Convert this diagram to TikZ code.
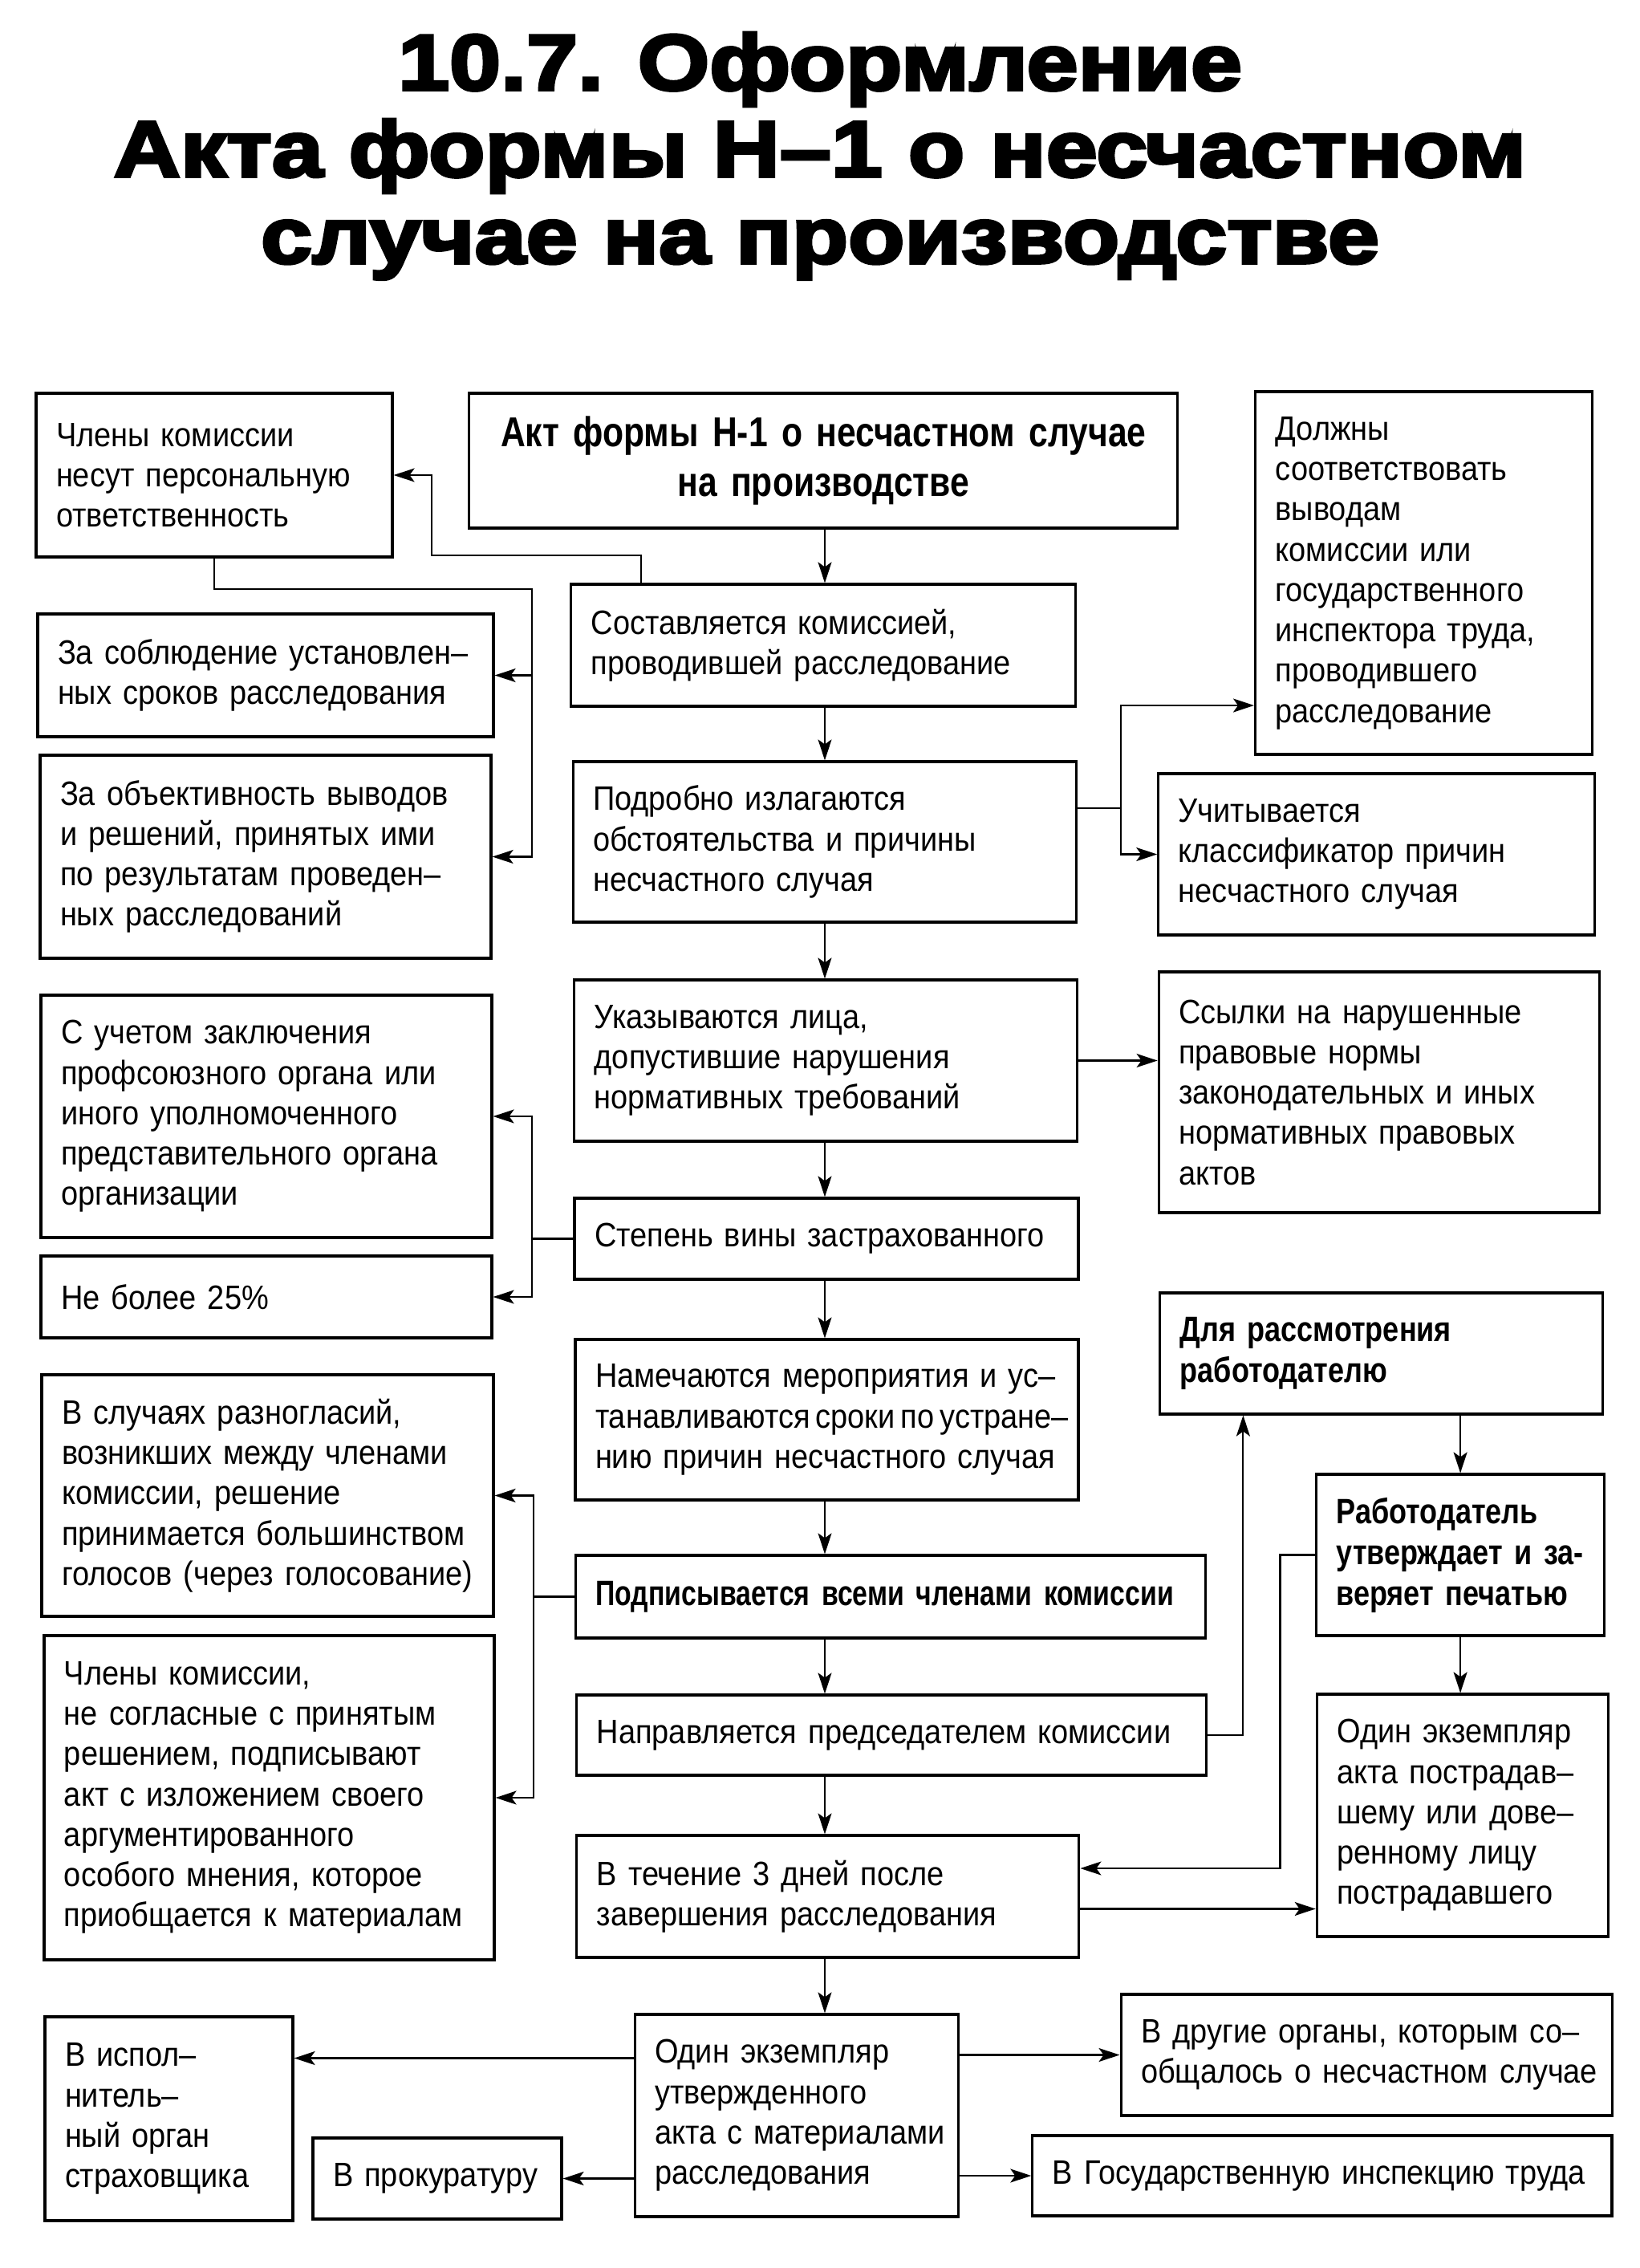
\documentclass[tikz,border=0pt]{standalone}
\usepackage{fontspec}
\setmainfont{Liberation Sans}[FakeStretch=0.9]
\newfontfamily\condbold{Liberation Sans}[FakeStretch=0.82]
\newfontfamily\tightbold{Liberation Sans}[FakeStretch=0.77]
\newfontfamily\titlefont{Liberation Sans}[FakeStretch=1.17, FakeBold=4]
\usetikzlibrary{arrows.meta, positioning, calc}

\begin{document}
\begin{tikzpicture}[
    box/.style={rectangle, draw, line width=0.9pt, align=left, inner xsep=0.25cm, inner ysep=0pt,
        font=\fontsize{12}{14.3}\selectfont,
        execute at begin node={\rightskip=0pt plus 1fil minus 2cm\relax}},
    boldbox/.style={box, font=\condbold\bfseries\fontsize{12.5}{14.5}\selectfont},
    arrow/.style={-{Stealth[length=2.6mm, width=1.7mm, inset=0.6mm]}, line width=0.6pt},
    link/.style={line width=0.6pt}
]
\useasboundingbox (0,0) rectangle (20.43,-28.26);
\fill[white] (0,0) rectangle (20.43,-28.26);

\node[font=\titlefont\bfseries\fontsize{28}{30.7}\selectfont, align=center, anchor=north, inner sep=0pt] (title) at (10.22,-0.40)
    {10.7. Оформление\\ Акта формы Н–1 о несчастном\\ случае на производстве};

% central column
\node[boldbox, text width=8.33cm, minimum height=1.68cm, font=\condbold\bfseries\fontsize{14.8}{17.5}\selectfont,
    execute at begin node={\leftskip=0pt plus 1fil\rightskip=0pt plus 1fil\parfillskip=0pt\relax}] (main) at (10.263,-5.74)
    {Акт формы Н-1 о несчастном случае\\ на производстве};
\node[box, text width=5.79cm, minimum height=1.52cm] (sost) at (10.263,-8.04)
    {Составляется комиссией,\\ проводившей расследование};
\node[box, text width=5.77cm, minimum height=2.00cm] (podrob) at (10.276,-10.49)
    {Подробно излагаются\\ обстоятельства и причины\\ несчастного случая};
\node[box, text width=5.77cm, minimum height=2.01cm] (ukaz) at (10.293,-13.215)
    {Указываются лица,\\ допустившие нарушения\\ нормативных требований};
\node[box, text width=5.78cm, minimum height=1.01cm] (stepen) at (10.30,-15.435)
    {Степень вины застрахованного};
\node[box, text width=5.77cm, minimum height=2.00cm] (namech) at (10.305,-17.69)
    {Намечаются мероприятия и ус–\\ танавливаются\kern2pt сроки\kern2pt по\kern2pt устране–\\ нию причин несчастного случая};
\node[boldbox, text width=7.35cm, minimum height=1.03cm, font=\tightbold\bfseries\fontsize{12.5}{14.5}\selectfont] (podp) at (11.099,-19.895)
    {Подписывается всеми членами комиссии};
\node[box, text width=7.35cm, minimum height=1.00cm] (napr) at (11.113,-21.62)
    {Направляется председателем комиссии};
\node[box, text width=5.76cm, minimum height=1.52cm] (vtech) at (10.318,-23.63)
    {В течение 3 дней после\\ завершения расследования};
\node[box, text width=3.53cm, minimum height=2.52cm] (odinutv) at (9.926,-26.36)
    {Один экземпляр\\ утвержденного\\ акта с материалами\\ расследования};

% left column
\node[box, text width=3.94cm, minimum height=2.04cm] (chlen) at (2.67,-5.92)
    {Члены комиссии\\ несут персональную\\ ответственность};
\node[box, text width=5.18cm, minimum height=1.53cm] (soblud) at (3.31,-8.415)
    {За соблюдение установлен–\\ ных сроков расследования};
\node[box, text width=5.12cm, minimum height=2.53cm] (objekt) at (3.31,-10.675)
    {За объективность выводов\\ и решений, принятых ими\\ по результатам проведен–\\ ных расследований};
\node[box, text width=5.12cm, minimum height=3.02cm] (suchet) at (3.32,-13.91)
    {С учетом заключения\\ профсоюзного органа или\\ иного уполномоченного\\ представительного органа\\ организации};
\node[box, text width=5.12cm, minimum height=1.02cm] (nebolee) at (3.32,-16.16)
    {Не более 25\%};
\node[box, text width=5.13cm, minimum height=3.01cm] (vsluch) at (3.335,-18.635)
    {В случаях разногласий,\\ возникших между членами\\ комиссии, решение\\ принимается большинством\\ голосов (через голосование)};
\node[box, text width=5.11cm, minimum height=4.04cm] (chlen2) at (3.355,-22.40)
    {Члены комиссии,\\ не согласные с принятым\\ решением, подписывают\\ акт с изложением своего\\ аргументированного\\ особого мнения, которое\\ приобщается к материалам};
\node[box, text width=2.59cm, minimum height=2.54cm] (ispol) at (2.105,-26.40)
    {В испол–\\ нитель–\\ ный орган\\ страховщика};
\node[box, text width=2.60cm, minimum height=1.01cm] (prokur) at (5.45,-27.145)
    {В прокуратуру};

% right column
\node[box, text width=3.70cm, minimum height=4.52cm] (dolzh) at (17.746,-7.14)
    {Должны\\ соответствовать\\ выводам\\ комиссии или\\ государственного\\ инспектора труда,\\ проводившего\\ расследование};
\node[box, text width=4.94cm, minimum height=2.01cm] (uchit) at (17.158,-10.645)
    {Учитывается\\ классификатор причин\\ несчастного случая};
\node[box, text width=4.99cm, minimum height=3.00cm] (ssylki) at (17.187,-13.61)
    {Ссылки на нарушенные\\ правовые нормы\\ законодательных и иных\\ нормативных правовых\\ актов};
\node[boldbox, text width=5.02cm, minimum height=1.51cm] (dlya) at (17.217,-16.865)
    {Для рассмотрения\\ работодателю};
\node[boldbox, text width=3.09cm, minimum height=2.01cm] (rabot) at (18.201,-19.375)
    {Работодатель\\ утверждает и за-\\ веряет печатью};
\node[box, text width=3.13cm, minimum height=3.02cm] (odin) at (18.228,-22.62)
    {Один экземпляр\\ акта пострадав–\\ шему или дове–\\ ренному лицу\\ пострадавшего};
\node[box, text width=5.62cm, minimum height=1.51cm] (drugie) at (17.031,-25.605)
    {В другие органы, которым со–\\ общалось о несчастном случае};
\node[box, text width=6.72cm, minimum height=1.00cm] (gosinsp) at (16.479,-27.11)
    {В Государственную инспекцию труда};

% Edges down the middle
\coordinate (spine) at (10.28,0);
\draw[arrow] (main.south -| spine) -- (sost.north -| spine);
\draw[arrow] (sost.south -| spine) -- (podrob.north -| spine);
\draw[arrow] (podrob.south -| spine) -- (ukaz.north -| spine);
\draw[arrow] (ukaz.south -| spine) -- (stepen.north -| spine);
\draw[arrow] (stepen.south -| spine) -- (namech.north -| spine);
\draw[arrow] (namech.south -| spine) -- (podp.north -| spine);
\draw[arrow] (podp.south -| spine) -- (napr.north -| spine);
\draw[arrow] (napr.south -| spine) -- (vtech.north -| spine);
\draw[arrow] (vtech.south -| spine) -- (odinutv.north -| spine);

% Branches to the left
\draw[arrow] ([xshift=-2.27cm]sost.north) |- (5.38,-6.92) |- (chlen.east);
\coordinate (bendA) at (6.63,-7.34);
\draw[arrow] (chlen.south) |- (bendA) |- (objekt.east);
\draw[arrow] (bendA) |- (soblud.east);
\draw[arrow] (stepen.west) -- ++(-0.515,0) |- (suchet.east);
\draw[arrow] (stepen.west) -- ++(-0.515,0) |- (nebolee.east);
\draw[arrow] (podp.west) -- ++(-0.505,0) |- (vsluch.east);
\draw[arrow] (podp.west) -- ++(-0.505,0) |- (chlen2.east);

% Branches to the right
\coordinate (bendC) at ([xshift=0.546cm, yshift=0.42cm]podrob.east);
\draw[link] ([yshift=0.42cm]podrob.east) -- (bendC);
\draw[arrow] (bendC) |- ([yshift=-1.65cm]dolzh.west);
\draw[arrow] (bendC) |- (uchit.west);
\draw[arrow] (ukaz.east) -- (ukaz.east -| ssylki.west);
\draw[arrow] (napr.east) -| ([xshift=-1.723cm]dlya.south);
\draw[arrow] (rabot.north |- dlya.south) -- (rabot.north);
\draw[arrow] (rabot.west) -- ++(-0.435,0) |- ([yshift=0.35cm]vtech.east);
\draw[arrow] (rabot.south) -- (rabot.south |- odin.north);
\draw[arrow] ([yshift=-0.155cm]vtech.east) -- ([yshift=-0.155cm]vtech.east -| odin.west);

% Copies sent out
\draw[arrow] ([yshift=0.715cm]odinutv.west) -- ([yshift=0.715cm]odinutv.west -| ispol.east);
\draw[arrow] (odinutv.west |- prokur.east) -- (prokur.east);
\draw[arrow] (odinutv.east |- drugie.west) -- (drugie.west);
\draw[arrow] (odinutv.east |- gosinsp.west) -- (gosinsp.west);

\end{tikzpicture}
\end{document}
